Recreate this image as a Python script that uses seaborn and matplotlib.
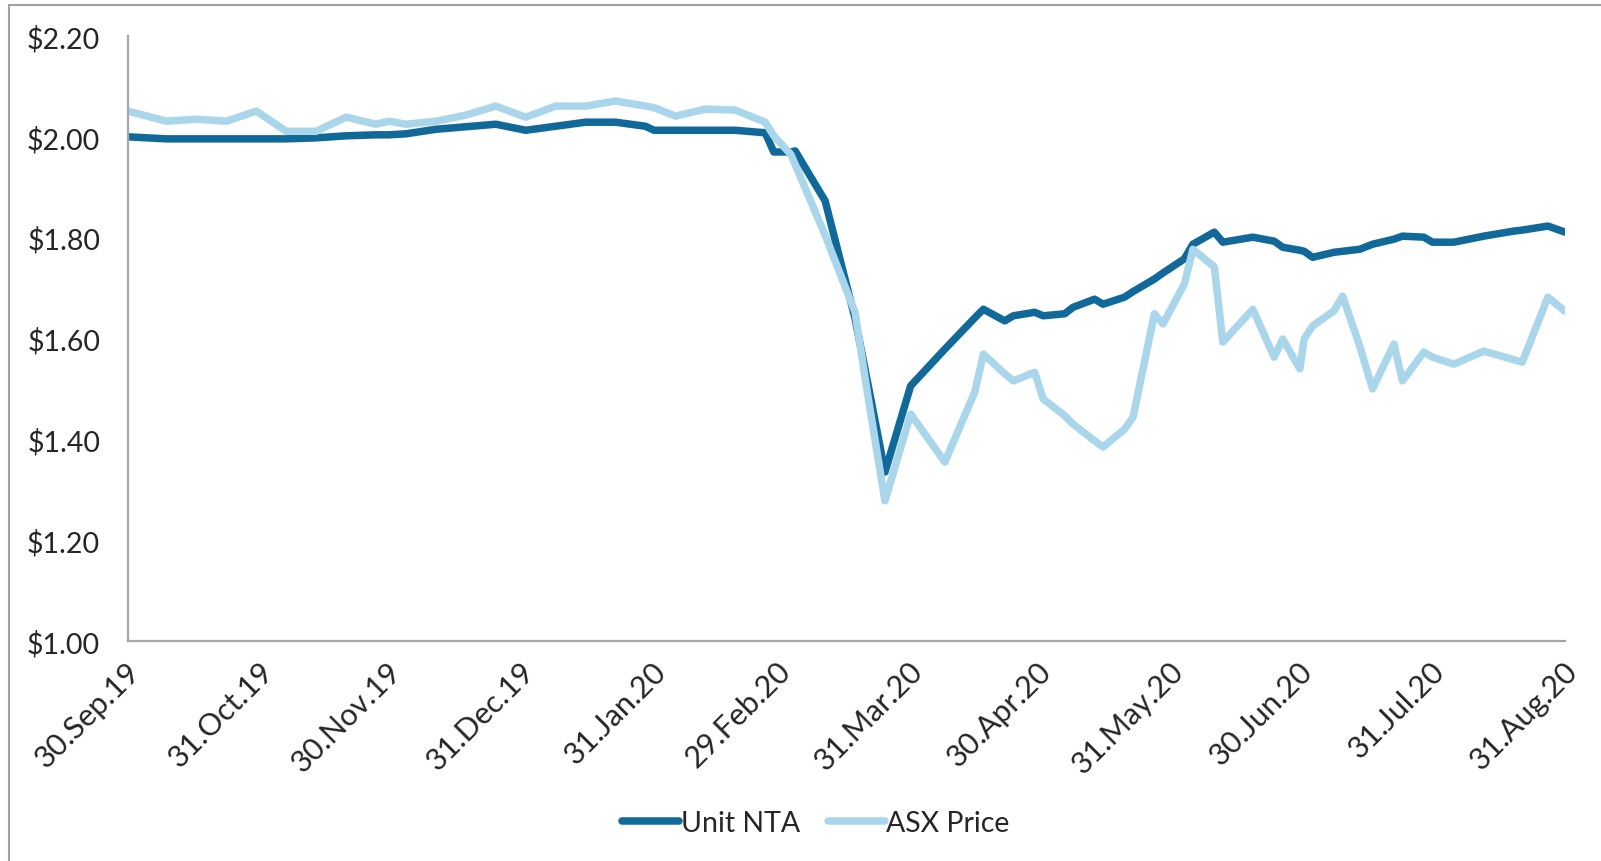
import matplotlib
matplotlib.use("Agg")
import matplotlib.pyplot as plt
from matplotlib.lines import Line2D
from matplotlib.transforms import ScaledTranslation
import seaborn as sns
import pandas as pd

# Weekly observations (plus month ends) for the fund
dates = [
    "2019-09-30", "2019-10-09", "2019-10-16", "2019-10-23", "2019-10-30",
    "2019-11-06", "2019-11-13", "2019-11-20", "2019-11-27", "2019-11-30",
    "2019-12-04", "2019-12-11", "2019-12-18", "2019-12-25", "2020-01-01",
    "2020-01-08", "2020-01-15", "2020-01-22", "2020-01-29", "2020-01-31",
    "2020-02-05", "2020-02-12", "2020-02-19", "2020-02-26", "2020-02-28",
    "2020-03-03", "2020-03-04", "2020-03-11", "2020-03-18", "2020-03-21",
    "2020-03-25", "2020-03-31", "2020-04-08", "2020-04-15", "2020-04-17",
    "2020-04-22", "2020-04-24", "2020-04-29", "2020-05-01", "2020-05-06",
    "2020-05-08", "2020-05-13", "2020-05-15", "2020-05-20", "2020-05-22",
    "2020-05-27", "2020-05-29", "2020-06-03", "2020-06-05", "2020-06-10",
    "2020-06-12", "2020-06-19", "2020-06-24", "2020-06-26", "2020-06-30",
    "2020-07-01", "2020-07-03", "2020-07-08", "2020-07-10", "2020-07-14",
    "2020-07-17", "2020-07-22", "2020-07-24", "2020-07-29", "2020-07-31",
    "2020-08-05", "2020-08-12", "2020-08-19", "2020-08-21", "2020-08-27",
    "2020-08-31",
]

unit_nta = [
    2.000, 1.996, 1.996, 1.996, 1.996,
    1.996, 1.998, 2.002, 2.004, 2.004,
    2.006, 2.015, 2.020, 2.025, 2.013,
    2.021, 2.029, 2.029, 2.021, 2.013,
    2.013, 2.013, 2.013, 2.008, 1.970,
    1.970, 1.972, 1.873, 1.640, 1.510,
    1.335, 1.506, 1.579, 1.641, 1.658,
    1.635, 1.645, 1.652, 1.645, 1.649,
    1.662, 1.678, 1.668, 1.682, 1.693,
    1.718, 1.730, 1.758, 1.787, 1.811,
    1.791, 1.801, 1.793, 1.781, 1.775,
    1.773, 1.761, 1.771, 1.773, 1.777,
    1.787, 1.797, 1.803, 1.801, 1.791,
    1.791, 1.803, 1.813, 1.815, 1.823,
    1.811,
]

asx_price = [
    2.051, 2.031, 2.035, 2.031, 2.051,
    2.011, 2.011, 2.039, 2.025, 2.031,
    2.025, 2.031, 2.043, 2.061, 2.039,
    2.061, 2.061, 2.071, 2.061, 2.058,
    2.041, 2.055, 2.053, 2.029, 2.002,
    1.965, 1.945, 1.805, 1.652, 1.486,
    1.278, 1.450, 1.355, 1.494, 1.569,
    1.530, 1.516, 1.533, 1.480, 1.447,
    1.430, 1.397, 1.385, 1.420, 1.444,
    1.649, 1.629, 1.708, 1.777, 1.742,
    1.593, 1.658, 1.563, 1.599, 1.540,
    1.599, 1.625, 1.655, 1.684, 1.585,
    1.500, 1.589, 1.516, 1.573, 1.563,
    1.549, 1.575, 1.558, 1.553, 1.682,
    1.654,
]

series_names = ["Unit NTA", "ASX Price"]
series_colors = ["#11699A", "#A9D6EA"]

tick_dates = [
    "2019-09-30", "2019-10-31", "2019-11-30", "2019-12-31", "2020-01-31",
    "2020-02-29", "2020-03-31", "2020-04-30", "2020-05-31", "2020-06-30",
    "2020-07-31", "2020-08-31",
]
tick_labels = [
    "30.Sep.19", "31.Oct.19", "30.Nov.19", "31.Dec.19", "31.Jan.20",
    "29.Feb.20", "31.Mar.20", "30.Apr.20", "31.May.20", "30.Jun.20",
    "31.Jul.20", "31.Aug.20",
]
y_ticks = [1.0, 1.2, 1.4, 1.6, 1.8, 2.0, 2.2]
y_labels = ["$1.00", "$1.20", "$1.40", "$1.60", "$1.80", "$2.00", "$2.20"]

# Long-form table for seaborn
df = pd.DataFrame({
    "date": pd.to_datetime(dates * 2),
    "value": unit_nta + asx_price,
    "series": [series_names[0]] * len(dates) + [series_names[1]] * len(dates),
})

sns.set_theme(style="white")
plt.rcParams["font.family"] = ["Lato", "DejaVu Sans"]

LW = 5.4
fig = plt.figure(figsize=(16.01, 8.62), dpi=100)
ax = fig.add_axes([128 / 1601, 1 - 642 / 862, (1565 - 128) / 1601, (642 - 37) / 862])

sns.lineplot(
    data=df, x="date", y="value", hue="series",
    hue_order=series_names, palette=series_colors,
    linewidth=LW, ax=ax, legend=False, sort=False,
)

ax.set_xlim(pd.Timestamp(tick_dates[0]), pd.Timestamp(tick_dates[-1]))
ax.set_ylim(y_ticks[0], y_ticks[-1])
ax.set_xlabel("")
ax.set_ylabel("")

ax.set_yticks(y_ticks)
ax.set_yticklabels(y_labels, fontsize=20.5, color="#262626")
ax.set_xticks(pd.to_datetime(tick_dates))
ax.set_xticklabels(tick_labels, fontsize=22, color="#262626",
                   rotation=45, ha="right", va="top", rotation_mode="anchor")
ax.tick_params(axis="both", length=0)
ax.tick_params(axis="y", pad=20)
ax.tick_params(axis="x", pad=11)

shift = ScaledTranslation(-2 / 100, 0, fig.dpi_scale_trans)
for lbl in ax.get_xticklabels():
    lbl.set_transform(lbl.get_transform() + shift)

for side in ("top", "right"):
    ax.spines[side].set_visible(False)
for side in ("left", "bottom"):
    ax.spines[side].set_color("#A6A6A6")
    ax.spines[side].set_linewidth(1.6)
ax.grid(False)

handles = [Line2D([0], [0], color=c, lw=LW) for c in series_colors]
fig.legend(handles, series_names, loc="center",
           bbox_to_anchor=(816 / 1601, 1 - 824 / 862), ncol=2, frameon=False,
           fontsize=20.5, handlelength=2.0, handletextpad=0.05, columnspacing=1.0,
           labelcolor="#262626")

# Outer frame along the left and top edges
fig.add_artist(Line2D([9 / 1601, 9 / 1601], [0, 1 - 6 / 862],
                      transform=fig.transFigure, color="#A0A0A0", lw=1.5))
fig.add_artist(Line2D([9 / 1601, 1], [1 - 6 / 862, 1 - 6 / 862],
                      transform=fig.transFigure, color="#A0A0A0", lw=1.5))

fig.savefig("out.png", dpi=100, facecolor="white")
